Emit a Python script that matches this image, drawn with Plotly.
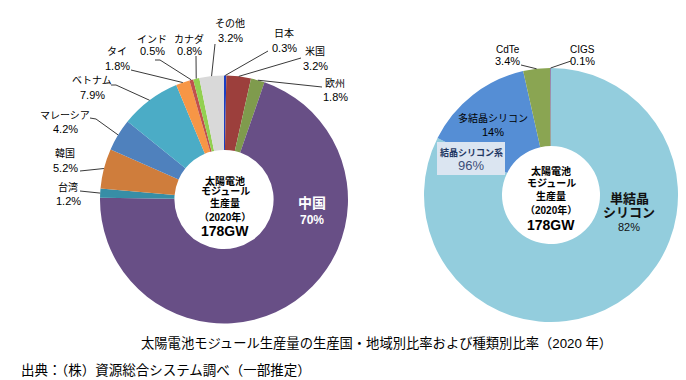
import math
import plotly.graph_objects as go

# ---------------- data ----------------
regions = ["日本", "米国", "欧州", "中国", "台湾", "韓国", "マレーシア", "ベトナム", "タイ", "インド", "カナダ", "その他"]
region_share = [0.3, 3.2, 1.8, 70, 1.2, 5.2, 4.2, 7.9, 1.8, 0.5, 0.8, 3.2]
types = ["単結晶シリコン", "多結晶シリコン", "CdTe", "CIGS"]
type_share = [82, 14, 3.4, 0.1]
crystalline_label = "結晶シリコン系"
crystalline_share = 96
total_gw = 178
year = 2020
center_lines = ["太陽電池", "モジュール", "生産量", f"（{year}年）", f"{total_gw}GW"]
caption = f"太陽電池モジュール生産量の生産国・地域別比率および種類別比率（{year} 年）"
source = "出典：（株）資源総合システム調べ（一部推定）"

# ---------------- styling / layout ----------------
W, H = 686, 380
FONT = "Liberation Sans, Arial, Noto Sans CJK JP"
region_colors = ["#1a3fc4", "#9c3f3c", "#7f9b4d", "#684f86", "#378ea6", "#cf7d3c",
                 "#4f81bd", "#4bacc6", "#f79646", "#c0504d", "#92d050", "#d9d9d9"]
type_colors = ["#93cddd", "#558ed5", "#8aa552", "#8064a2"]

L_CX, L_CY, L_R = 216, 191.5, 124
R_CX, R_CY, R_R = 543, 187, 127


def px(x):
    return x / W


def py(y):
    return 1 - y / H


def edge_points(values, cx, cy, r):
    tot = sum(values)
    pts, cum = [], 0
    for v in values:
        mid = (cum + v / 2) / tot * 2 * math.pi
        pts.append((cx + r * math.sin(mid), cy - r * math.cos(mid)))
        cum += v
    return pts


# label placement: name -> (center x, name y, pct y, leader line points before the slice edge)
left_labels = {
    "日本": (276, 25, 40, [(260, 43)]),
    "米国": (307, 43, 58, [(293, 50)]),
    "欧州": (327, 75, 89, [(314, 79)]),
    "台湾": (60, 179, 193, [(72, 183)]),
    "韓国": (57, 145, 160, [(72, 163)]),
    "マレーシア": (57, 107, 121, [(82, 110), (88, 111)]),
    "ベトナム": (84, 72, 87, [(103, 77), (108, 77)]),
    "タイ": (109, 43, 58, [(123, 62)]),
    "インド": (144, 31, 43, [(147, 52), (152, 52)]),
    "カナダ": (181, 31, 43, [(188, 48)]),
    "その他": (222, 15, 30, [(207, 36)]),
}
right_labels = {
    "CdTe": (500, 41, 53, [(513, 57)]),
    "CIGS": (574, 41, 53, [(563, 53)]),
}

fig = go.Figure()
fig.add_trace(go.Pie(
    labels=regions, values=region_share, sort=False, direction="clockwise", rotation=0,
    hole=0.4, textinfo="none", hoverinfo="label+percent",
    marker=dict(colors=region_colors, line=dict(width=0)),
    domain=dict(x=[px(L_CX - L_R), px(L_CX + L_R)], y=[py(L_CY + L_R), py(L_CY - L_R)]),
))
fig.add_trace(go.Pie(
    labels=types, values=type_share, sort=False, direction="clockwise", rotation=0,
    hole=0.386, textinfo="none", hoverinfo="label+percent",
    marker=dict(colors=type_colors, line=dict(width=0)),
    domain=dict(x=[px(R_CX - R_R), px(R_CX + R_R)], y=[py(R_CY + R_R), py(R_CY - R_R)]),
))

annotations = []
shapes = []


def add_text(x, y, text, size, color="#000", bold=False, xanchor="center"):
    if bold:
        text = f"<b>{text}</b>"
    annotations.append(dict(x=px(x), y=py(y), xref="paper", yref="paper", text=text,
                            showarrow=False, xanchor=xanchor, yanchor="middle",
                            font=dict(family=FONT, size=size, color=color)))


def add_leaders(names, values, cx, cy, r, placement):
    pts = edge_points(values, cx, cy, r)
    for name, v, end in zip(names, values, pts):
        if name not in placement:
            continue
        lx, ny, pyy, path = placement[name]
        add_text(lx, ny, name, 10)
        add_text(lx, pyy, f"{v:g}%", 11)
        seq = path + [end]
        for (x0, y0), (x1, y1) in zip(seq[:-1], seq[1:]):
            shapes.append(dict(type="line", xref="paper", yref="paper",
                               x0=px(x0), y0=py(y0), x1=px(x1), y1=py(y1),
                               line=dict(color="#3a3a3a", width=1)))


add_leaders(regions, region_share, L_CX, L_CY, L_R, left_labels)
add_leaders(types, type_share, R_CX, R_CY, R_R, right_labels)

# centre texts
for cx, ys in ((217, [173, 184, 195, 209, 223]), (543, [163, 175, 188, 202, 217])):
    for i, (t, y) in enumerate(zip(center_lines, ys)):
        add_text(cx, y, t, 14 if i == 4 else 10, "#000", bold=True)

# china label
add_text(304, 195, regions[3], 14, "#ffffff", bold=True)
add_text(304, 212, f"{region_share[3]:g}%", 12, "#ffffff", bold=True)

# mono-Si label
add_text(621, 190, "単結晶", 13, "#111", bold=True)
add_text(621, 204, "シリコン", 13, "#111", bold=True)
add_text(621, 219, f"{type_share[0]:g}%", 11, "#111")

# multi-Si label
add_text(485, 110, types[1], 10)
add_text(485, 124, f"{type_share[1]:g}%", 11)

# crystalline box
shapes.append(dict(type="rect", xref="paper", yref="paper",
                   x0=px(429), x1=px(497), y0=py(167), y1=py(134),
                   fillcolor="#dbe5f1", line=dict(width=0)))
add_text(463, 144, crystalline_label, 9, "#1f3864", bold=True)
add_text(463, 157, f"{crystalline_share:g}%", 13, "#3b4e78")

# caption & source
add_text(368, 335, caption, 13.3, "#000")
add_text(11, 362, source, 13.5, "#000", xanchor="left")

fig.update_layout(
    width=W, height=H, autosize=False,
    margin=dict(l=0, r=0, t=0, b=0),
    paper_bgcolor="#ffffff", plot_bgcolor="#ffffff",
    showlegend=False,
    annotations=annotations, shapes=shapes,
    font=dict(family=FONT),
)
fig.write_html("out.html")
